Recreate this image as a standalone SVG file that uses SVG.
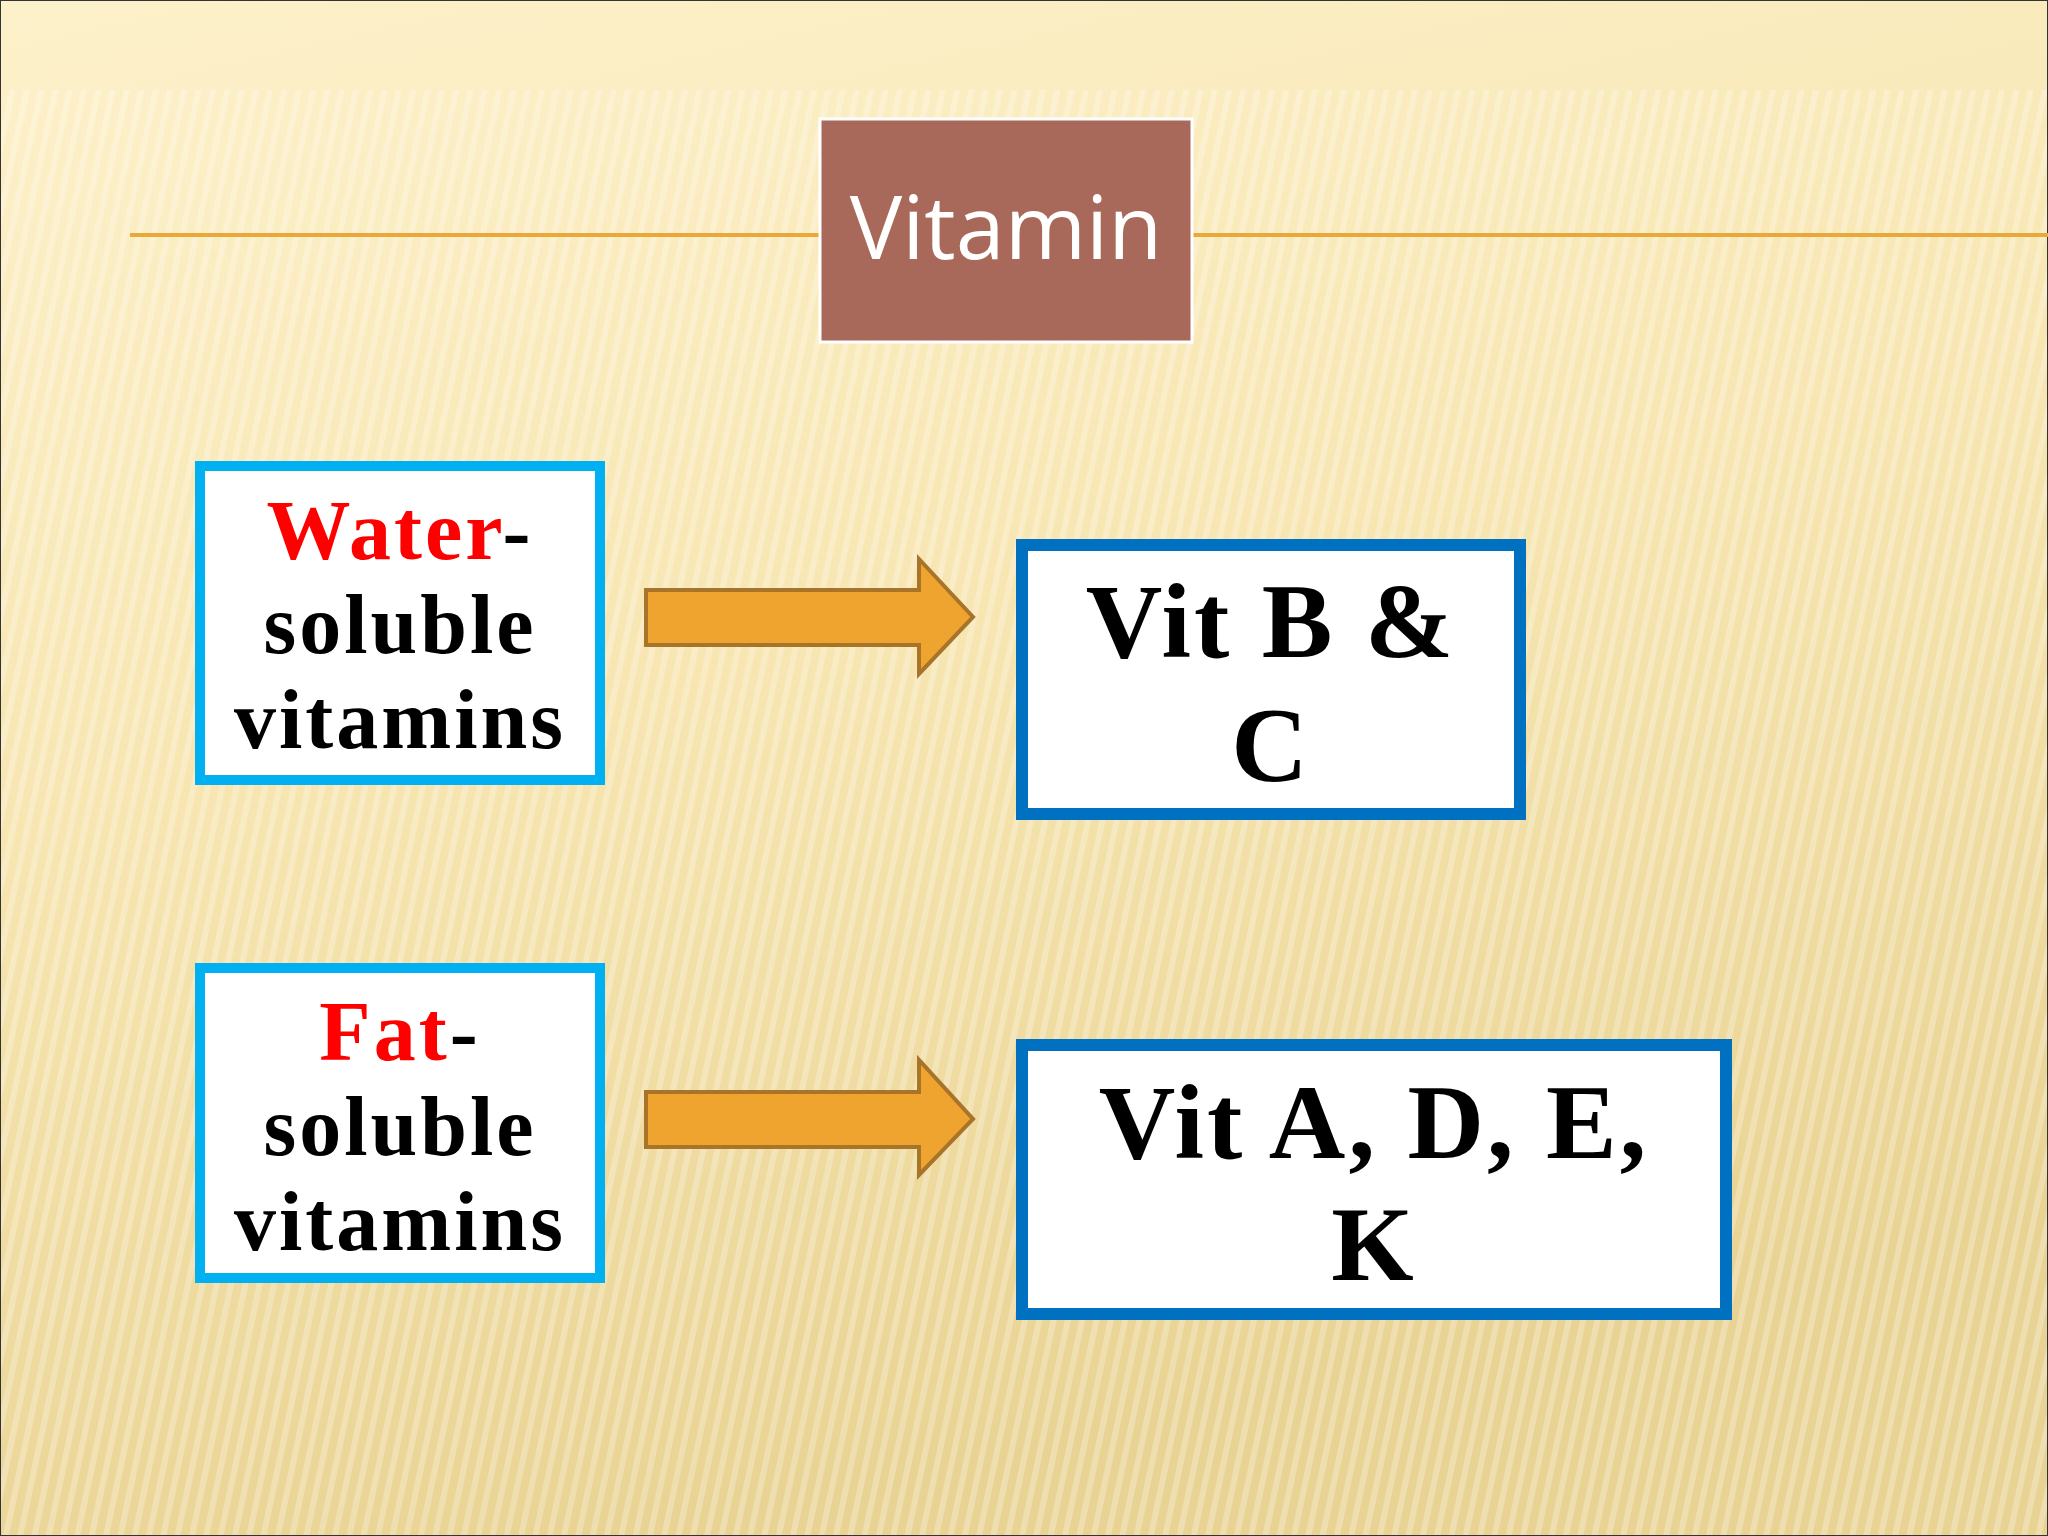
<svg xmlns="http://www.w3.org/2000/svg" width="2048" height="1536" viewBox="0 0 2048 1536">
<defs>
<linearGradient id="bg" x1="0" y1="0" x2="0.3" y2="1">
<stop offset="0" stop-color="#fdf1cb"/>
<stop offset="0.5" stop-color="#f7e6b2"/>
<stop offset="1" stop-color="#e9d394"/>
</linearGradient>
<pattern id="stripes" width="14" height="40" patternUnits="userSpaceOnUse" patternTransform="rotate(12)">
<rect width="6" height="40" fill="#ffffff" opacity="0.25"/>
</pattern>
<style>
.vt{font-family:"Liberation Serif",serif;font-weight:bold;text-anchor:middle;letter-spacing:3px}
.lb{stroke:#00b0f0;stroke-width:10;fill:#ffffff}
.db{stroke:#0070c0;stroke-width:12;fill:#ffffff}
.ar{fill:#efa430;stroke:#a8742a;stroke-width:4}
</style>
</defs>
<rect width="2048" height="1536" fill="url(#bg)"/>
<rect y="90" width="2048" height="1446" fill="url(#stripes)"/>
<rect x="0.5" y="0.5" width="2047" height="1535" fill="none" stroke="#333" stroke-width="1"/>
<g id="connectors">
<line x1="130" y1="235" x2="2048" y2="235" stroke="#eba83a" stroke-width="4"/>
<path class="ar" d="M646,590 H919 V559 L973,617 L919,674 V645 H646 Z"/>
<path class="ar" d="M646,1092 H919 V1060 L973,1119 L919,1175 V1147 H646 Z"/>
</g>
<g id="title">
<rect x="820" y="119" width="372" height="223" fill="#a9695a" stroke="#ffffff" stroke-width="3"/>
<text x="1006" y="259" font-family="'Open Sans',sans-serif" font-size="88" fill="#ffffff" text-anchor="middle">Vitamin</text>
</g>
<g id="water">
<rect class="lb" x="200" y="466" width="400" height="314"/>
<text class="vt" x="400" y="559" font-size="84"><tspan fill="#ff0000">Water</tspan>-</text>
<text class="vt" x="400" y="653" font-size="84">soluble</text>
<text class="vt" x="400" y="748" font-size="84">vitamins</text>
</g>
<g id="bc">
<rect class="db" x="1022" y="545" width="498" height="269"/>
<text class="vt" x="1271" y="657" font-size="106">Vit B &amp;</text>
<text class="vt" x="1271" y="781" font-size="106">C</text>
</g>
<g id="fat">
<rect class="lb" x="200" y="968" width="400" height="310"/>
<text class="vt" x="400" y="1060" font-size="84"><tspan fill="#ff0000">Fat</tspan>-</text>
<text class="vt" x="400" y="1155" font-size="84">soluble</text>
<text class="vt" x="400" y="1250" font-size="84">vitamins</text>
</g>
<g id="adek">
<rect class="db" x="1022" y="1045" width="704" height="269"/>
<text class="vt" x="1374" y="1158" font-size="106">Vit A, D, E,</text>
<text class="vt" x="1374" y="1280" font-size="106">K</text>
</g>
</svg>
